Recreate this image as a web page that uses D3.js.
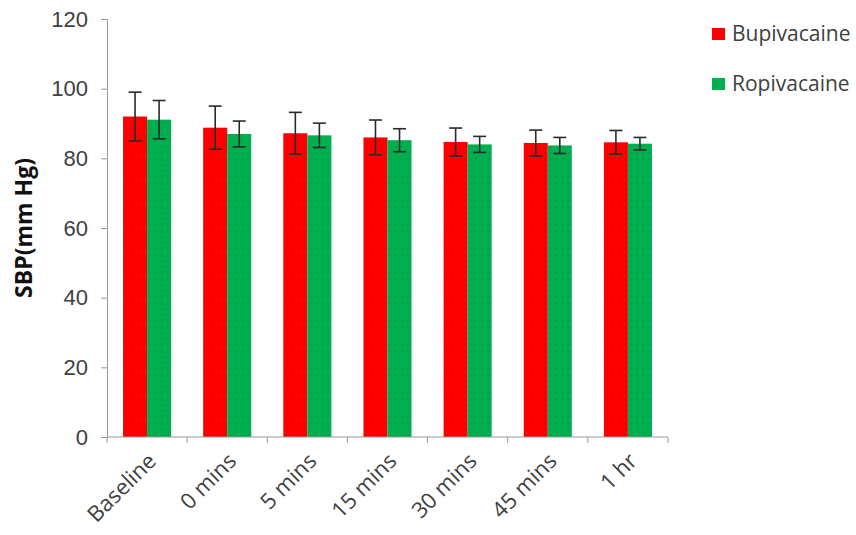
<!DOCTYPE html>
<html>
<head>
<meta charset="utf-8">
<script src="https://cdnjs.cloudflare.com/ajax/libs/d3/7.8.5/d3.min.js"></script>
<style>
  body { margin: 0; background: #fff; }
  svg { font-family: "Open Sans", "Liberation Sans", sans-serif; }
</style>
</head>
<body>
<div id="chart"></div>
<script>
// data
let categories = ["Baseline", "0 mins", "5 mins", "15 mins", "30 mins", "45 mins", "1 hr"];
let seriesNames = ["Bupivacaine", "Ropivacaine"];
let bupiMean = [92.0, 88.8, 87.2, 86.0, 84.7, 84.4, 84.6];
let bupiErr = [7.0, 6.2, 6.0, 5.0, 4.0, 3.7, 3.4];
let ropiMean = [91.1, 87.0, 86.6, 85.2, 84.0, 83.7, 84.2];
let ropiErr = [5.5, 3.7, 3.5, 3.3, 2.3, 2.3, 1.8];
let yTicks = [0, 20, 40, 60, 80, 100, 120];
let colors = ["#ff0000", "#00b050"];

let width = 856, height = 535;
let margin = {top: 19, right: 188, bottom: 98, left: 107};

let svg = d3.select("#chart").append("svg")
    .attr("width", width)
    .attr("height", height);

// faint dotted fill like the original bars
let defs = svg.append("defs");
colors.forEach(function(c, i) {
    let p = defs.append("pattern")
        .attr("id", "pat" + i)
        .attr("width", 6).attr("height", 6)
        .attr("patternUnits", "userSpaceOnUse");
    p.append("rect").attr("width", 6).attr("height", 6).attr("fill", c);
    p.append("circle").attr("cx", 3).attr("cy", 3).attr("r", 0.8)
        .attr("fill", d3.color(c).darker(0.5));
});

let x = d3.scaleBand()
    .domain(categories)
    .range([margin.left, width - margin.right])
    .paddingInner(0.4)
    .paddingOuter(0.2);

let xSub = d3.scaleBand()
    .domain([0, 1])
    .range([0, x.bandwidth()]);

let y = d3.scaleLinear()
    .domain([0, 120])
    .range([height - margin.bottom, margin.top]);

let rows = categories.map((c, i) => ({
    cat: c,
    vals: [
        {s: 0, mean: bupiMean[i], err: bupiErr[i]},
        {s: 1, mean: ropiMean[i], err: ropiErr[i]}
    ]
}));

// bars
let groups = svg.append("g").selectAll("g")
    .data(rows)
    .enter().append("g")
    .attr("transform", d => "translate(" + x(d.cat) + ",0)");

groups.selectAll("rect")
    .data(d => d.vals)
    .enter().append("rect")
    .attr("x", d => xSub(d.s))
    .attr("y", d => y(d.mean))
    .attr("width", xSub.bandwidth())
    .attr("height", d => y(0) - y(d.mean))
    .attr("fill", d => "url(#pat" + d.s + ")");

// error bars
let eb = groups.selectAll(".err")
    .data(d => d.vals)
    .enter().append("g")
    .attr("class", "err")
    .attr("stroke", "#2a2a2a")
    .attr("stroke-width", 1.6);

eb.append("line")
    .attr("x1", d => xSub(d.s) + xSub.bandwidth() / 2)
    .attr("x2", d => xSub(d.s) + xSub.bandwidth() / 2)
    .attr("y1", d => y(d.mean + d.err))
    .attr("y2", d => y(d.mean - d.err));
[1, -1].forEach(function(sg) {
    eb.append("line")
        .attr("x1", d => xSub(d.s) + xSub.bandwidth() / 2 - 6.5)
        .attr("x2", d => xSub(d.s) + xSub.bandwidth() / 2 + 6.5)
        .attr("y1", d => y(d.mean + sg * d.err))
        .attr("y2", d => y(d.mean + sg * d.err));
});

// y axis
let yAxis = svg.append("g")
    .attr("transform", "translate(" + margin.left + ",0)")
    .call(d3.axisLeft(y).tickValues(yTicks).tickSize(6).tickPadding(13));
yAxis.select(".domain").attr("stroke", "#999");
yAxis.selectAll(".tick line").attr("stroke", "#999");
yAxis.selectAll(".tick text")
    .attr("fill", "#404040")
    .style("font-size", "22px");

// x axis with ticks at category boundaries
let x0 = margin.left, x1 = width - margin.right;
let xAxisG = svg.append("g");
xAxisG.append("line")
    .attr("x1", x0).attr("x2", x1)
    .attr("y1", y(0)).attr("y2", y(0))
    .attr("stroke", "#999");
let bounds = d3.range(categories.length + 1).map(i => x0 + i * (x1 - x0) / categories.length);
xAxisG.selectAll(".xt")
    .data(bounds)
    .enter().append("line")
    .attr("x1", d => d).attr("x2", d => d)
    .attr("y1", y(0)).attr("y2", y(0) + 6)
    .attr("stroke", "#999");

xAxisG.selectAll(".xl")
    .data(categories)
    .enter().append("text")
    .attr("transform", d => "translate(" + (x(d) + x.bandwidth() / 2 + 5) + "," + (y(0) + 20) + ") rotate(-45)")
    .attr("text-anchor", "end")
    .attr("dy", "0.35em")
    .attr("fill", "#404040")
    .style("font-size", "22px")
    .text(d => d);

// y axis title
svg.append("text")
    .attr("transform", "translate(32," + ((y(0) + y(120)) / 2) + ") rotate(-90)")
    .attr("text-anchor", "middle")
    .attr("font-weight", "bold")
    .attr("fill", "#111")
    .style("font-size", "23px")
    .text("SBP(mm Hg)");

// legend
let legend = svg.append("g").selectAll("g")
    .data(seriesNames)
    .enter().append("g")
    .attr("transform", (d, i) => "translate(712," + (28 + i * 50) + ")");
legend.append("rect")
    .attr("width", 13).attr("height", 12)
    .attr("fill", (d, i) => colors[i]);
legend.append("text")
    .attr("x", 20).attr("y", 6)
    .attr("dy", "0.35em")
    .attr("fill", "#404040")
    .style("font-size", "21px")
    .text(d => d);
</script>
</body>
</html>
